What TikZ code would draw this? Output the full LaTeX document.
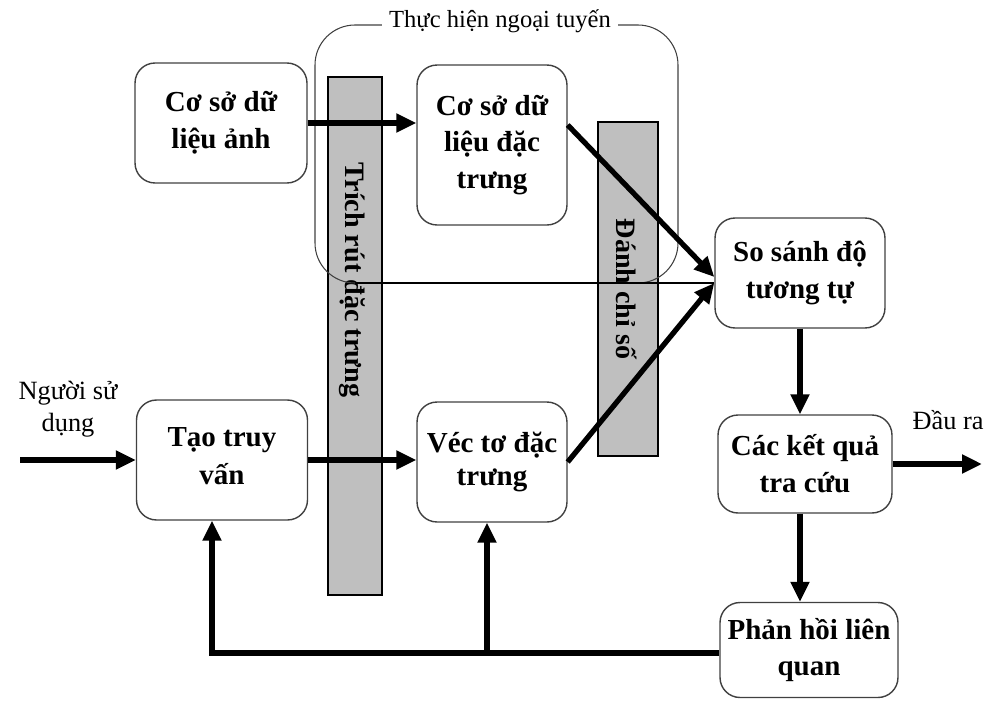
\documentclass[tikz,border=0pt]{standalone}
\usepackage{fontspec}
\setmainfont{Liberation Serif}
\usetikzlibrary{arrows.meta,calc}
\begin{document}
\begin{tikzpicture}[x=0.02cm,y=-0.02cm,
  box/.style={draw=black!75,line width=0.8pt,rounded corners=0.4cm,align=center,
    font=\bfseries\fontsize{16.5}{21}\selectfont,inner sep=1pt},
  bar/.style={draw,fill=black!25,line width=0.7pt,inner sep=0pt},
  bartext/.style={rotate=-90,font=\bfseries\fontsize{16}{21}\selectfont},
  arr/.style={line width=3pt,-{Triangle[length=0.4cm,width=0.36cm]}},
  lbl/.style={align=center,font=\fontsize{15}{18}\selectfont}]
  \useasboundingbox (0,0) rectangle (994,700);
  \node[bar,minimum width=1.08cm,minimum height=10.36cm] (extractbar) at (355,336) {};
  \node[bartext] (extract) at (352,280) {Trích rút đặc trưng};
  \node[bar,minimum width=1.2cm,minimum height=6.68cm] (indexbar) at (628,289) {};
  \node[bartext] (index) at (627,289) {Đánh chỉ số};
  \draw[draw=black!75,line width=0.6pt,rounded corners=0.8cm] (315,25) rectangle (678,283);
  \node[fill=white,inner xsep=4pt,font=\fontsize{14}{16}\selectfont] (offline) at (500,21) {Thực hiện ngoại tuyến};
  \node[box,minimum width=3.44cm,minimum height=2.4cm] (imgdb) at (221,123) {Cơ sở dữ\\liệu ảnh};
  \node[box,minimum width=3cm,minimum height=3.2cm] (featdb) at (492,145) {Cơ sở dữ\\liệu đặc\\trưng};
  \node[box,minimum width=3.42cm,minimum height=2.4cm] (query) at (222,460) {\raisebox{0.16cm}{\shortstack{Tạo truy\\[3pt]vấn}}};
  \node[box,minimum width=3cm,minimum height=2.4cm] (featvec) at (492,462) {\raisebox{0.14cm}{\shortstack{Véc tơ đặc\\[3pt]trưng}}};
  \node[box,minimum width=3.4cm,minimum height=2.2cm] (compare) at (800,273) {So sánh độ\\tương tự};
  \node[box,minimum width=3.48cm,minimum height=1.96cm] (results) at (805,464) {Các kết quả\\tra cứu};
  \node[box,minimum width=3.56cm,minimum height=1.9cm] (feedback) at (809,650) {Phản hồi liên\\quan};
  \node[lbl] (user) at (68,409) {Người sử\\dụng};
  \node[lbl] (output) at (948,420) {Đầu ra};
  \coordinate (thin) at (355,283);
  \coordinate (in) at (20,460);
  \coordinate (out) at (982,464);
  \coordinate (fb) at (212,653);
  \draw[line width=0.6pt] (thin) -- (thin -| compare.west);
  \draw[arr] (imgdb.east) -- (imgdb.east -| featdb.west);
  \draw[arr] (query.east) -- (query.east -| featvec.west);
  \draw[arr] ($(featdb.east)+(0,-20)$) -- ($(compare.west)+(0,4)$);
  \draw[arr] (featvec.east) -- (thin -| compare.west);
  \draw[arr] (in) -- (in -| query.west);
  \draw[arr] (results.east) -- (out);
  \draw[arr] (compare.south) -- (compare.south |- results.north);
  \draw[arr] (results.south -| compare.south) -- (compare.south |- feedback.north);
  \draw[arr] (feedback.west |- fb) -- (fb) -- (fb |- query.south);
  \draw[arr] (487,653) -- (487,0 |- featvec.south);
\end{tikzpicture}
\end{document}
